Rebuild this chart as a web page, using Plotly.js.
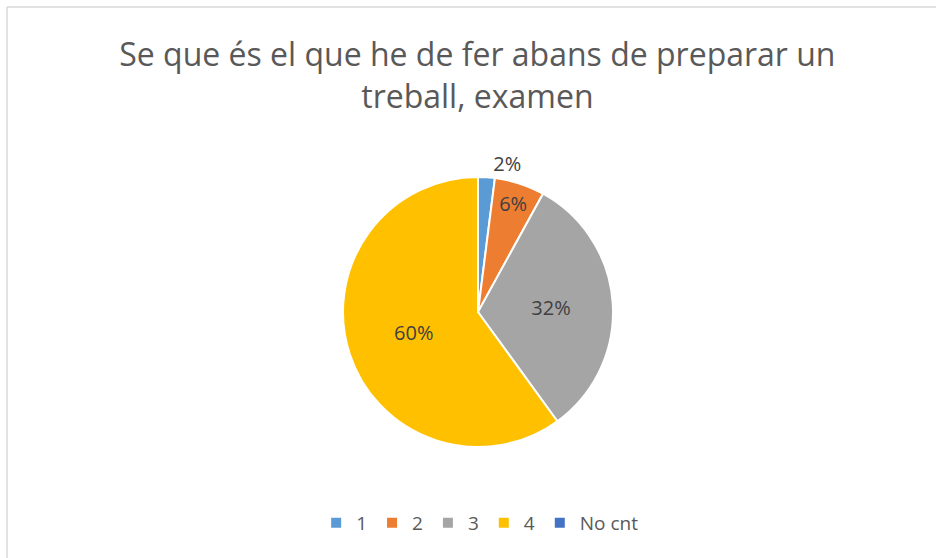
<!DOCTYPE html>
<html>
<head>
<meta charset="utf-8">
<script src="https://cdn.plot.ly/plotly-3.0.1.min.js"></script>
<style>html,body{margin:0;padding:0;background:#fff;}#chart{width:936px;height:558px;}</style>
</head>
<body>
<div id="chart"></div>
<script>
const categories = ["1", "2", "3", "4", "No cnt"];
const values = [1, 3, 16, 30, 0];
const sliceColors = ["#5B9BD5", "#ED7D31", "#A5A5A5", "#FFC000", "#4472C4"];
const labelPositions = ["outside", "inside", "inside", "inside", "none"];
const titleText = "Se que és el que he de fer abans de preparar un<br>treball, examen";

const W = 936, H = 558;
const cx = 478, cy = 312, r = 135;

const trace = {
  type: "pie",
  labels: categories,
  values: values,
  sort: false,
  direction: "clockwise",
  rotation: 0,
  marker: { colors: sliceColors, line: { color: "#FFFFFF", width: 2 } },
  textinfo: "percent",
  texttemplate: "%{percent:.0%}",
  textposition: labelPositions,
  insidetextorientation: "horizontal",
  textfont: { family: "Open Sans, sans-serif", size: 20, color: "#404040" },
  outsidetextfont: { family: "Open Sans, sans-serif", size: 20, color: "#404040" },
  insidetextfont: { family: "Open Sans, sans-serif", size: 20, color: "#404040" },
  domain: { x: [(cx - r) / W, (cx + r) / W], y: [(H - cy - r) / H, (H - cy + r) / H] },
  hoverinfo: "label+percent",
  showlegend: true
};

const layout = {
  width: W, height: H,
  margin: { l: 0, r: 0, t: 0, b: 0 },
  paper_bgcolor: "#FFFFFF",
  font: { family: "Open Sans, sans-serif", color: "#595959" },
  title: {
    text: titleText,
    font: { family: "Open Sans, sans-serif", size: 32, color: "#595959" },
    x: 0.51, xanchor: "center",
    y: 1 - 66 / H, yanchor: "top", yref: "container"
  },
  legend: {
    orientation: "h",
    x: 0.513, xanchor: "center",
    y: 1 - 523 / H, yanchor: "middle",
    font: { family: "Open Sans, sans-serif", size: 19, color: "#595959" },
    itemwidth: 30, traceorder: "normal"
  },
  shapes: [
    { type: "line", xref: "paper", yref: "paper", x0: 7 / W, x1: 1.01, y0: 1 - 7 / H, y1: 1 - 7 / H, line: { color: "#D9D9D9", width: 1.5 } },
    { type: "line", xref: "paper", yref: "paper", x0: 7 / W, x1: 7 / W, y0: 1 - 7 / H, y1: -0.01, line: { color: "#D9D9D9", width: 1.5 } }
  ]
};

Plotly.newPlot("chart", [trace], layout, { displayModeBar: false, staticPlot: true });
</script>
</body>
</html>
